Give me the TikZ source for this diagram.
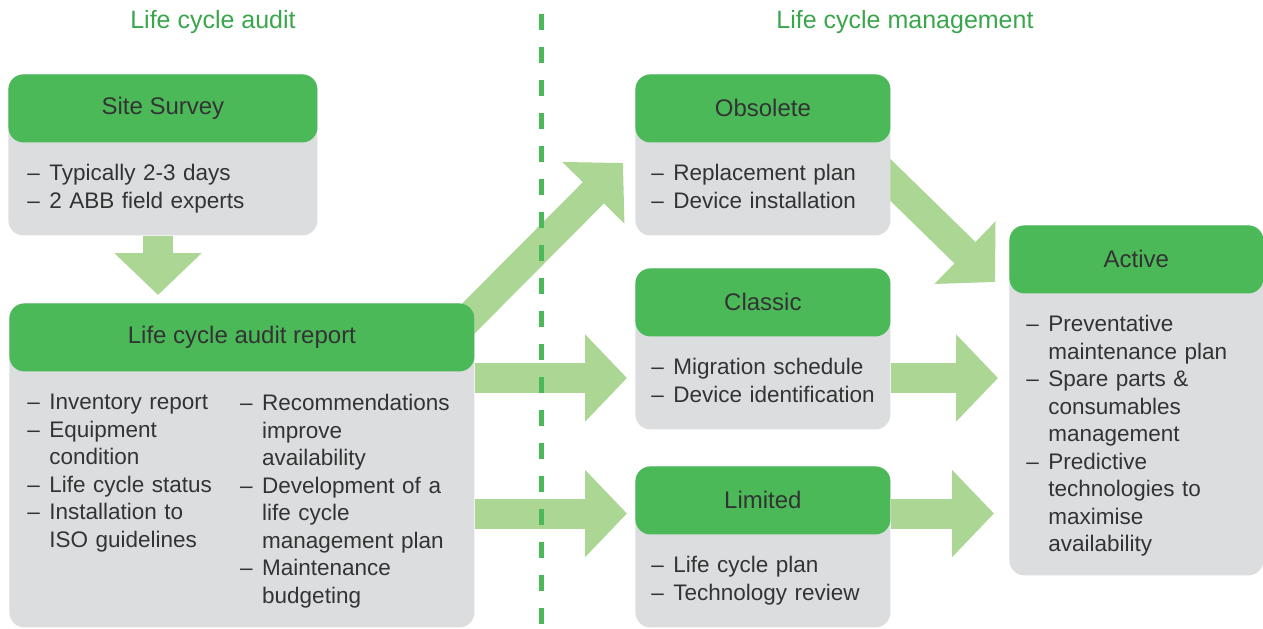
\documentclass[tikz,border=0pt]{standalone}
\usepackage{fontspec}
\setmainfont{Liberation Sans}
\usetikzlibrary{positioning,backgrounds,arrows.meta}
\definecolor{headgreen}{RGB}{75, 185, 88}
\definecolor{arrowgreen}{RGB}{172, 214, 147}
\definecolor{bodygrey}{RGB}{220, 221, 223}
\definecolor{titlegreen}{RGB}{58, 166, 75}
\definecolor{textgrey}{RGB}{51, 51, 51}
\newcommand{\dashitem}[1]{\noindent\hangindent=11pt\hangafter=1\makebox[11pt][l]{--}#1\par}

\begin{document}
\begin{tikzpicture}[
x=0.5pt, y=-0.5pt,
font=\fontsize{11.25}{13.75}\selectfont, text=textgrey,
titlenode/.style={text=titlegreen, font=\fontsize{12.5}{15}\selectfont},
bodynode/.style={rounded corners=7.5pt, fill=bodygrey, inner sep=0pt, anchor=north west},
headnode/.style={rounded corners=7.5pt, fill=headgreen, inner sep=0pt, minimum height=34pt, anchor=north, font=\fontsize{12}{14}\selectfont},
listnode/.style={anchor=north west, inner sep=0pt, align=left},
bigarrow/.style={-{Triangle[length=21pt, width=42.5pt]}, line width=15pt, draw=arrowgreen},
dashline/.style={draw=headgreen, line width=2.5pt, dash pattern=on 8pt off 8.5pt}
]
\useasboundingbox (0,0) rectangle (1263,628);

%Titles
\node[titlenode] (audit_title) at (213,22) {Life cycle audit};
\node[titlenode] (manage_title) at (905,22) {Life cycle management};

%Boxes audit
\node[bodynode, minimum width=154.5pt, minimum height=80.5pt] (survey_body) at (8,74) {};
\node[headnode, minimum width=154.5pt] (survey_head) at (survey_body.north) {Site Survey};
\node[listnode, text width=140pt] (survey_list) at (27,164) {\dashitem{Typically 2-3 days}\dashitem{2 ABB field experts}};

\node[bodynode, minimum width=232.5pt, minimum height=162pt] (report_body) at (9,303) {};
\node[headnode, minimum width=232.5pt] (report_head) at (report_body.north) {Life cycle audit report};
\node[listnode, text width=100pt] (report_list_1) at (27,394) {\dashitem{Inventory report}\dashitem{Equipment\newline condition}\dashitem{Life cycle status}\dashitem{Installation to\newline ISO guidelines}};
\node[listnode, text width=115pt] (report_list_2) [right=6pt of report_list_1.north east, anchor=north west] {\dashitem{Recommendations\newline improve\newline availability}\dashitem{Development of a\newline life cycle\newline management plan}\dashitem{Maintenance\newline budgeting}};

%Boxes management
\node[bodynode, minimum width=127.5pt, minimum height=80.5pt] (obsolete_body) at (635,74) {};
\node[headnode, minimum width=127.5pt] (obsolete_head) at (obsolete_body.north) {Obsolete};
\node[listnode, text width=120pt] (obsolete_list) at (651,164) {\dashitem{Replacement plan}\dashitem{Device installation}};

\node[bodynode, minimum width=127.5pt, minimum height=80.5pt] (classic_body) at (635,268) {};
\node[headnode, minimum width=127.5pt] (classic_head) at (classic_body.north) {Classic};
\node[listnode, text width=120pt] (classic_list) at (651,358) {\dashitem{Migration schedule}\dashitem{Device identification}};

\node[bodynode, minimum width=127.5pt, minimum height=80.5pt] (limited_body) at (635,466) {};
\node[headnode, minimum width=127.5pt] (limited_head) at (limited_body.north) {Limited};
\node[listnode, text width=120pt] (limited_list) at (651,556) {\dashitem{Life cycle plan}\dashitem{Technology review}};

\node[bodynode, minimum width=127pt, minimum height=175pt] (active_body) at (1009,225) {};
\node[headnode, minimum width=127pt] (active_head) at (active_body.north) {Active};
\node[listnode, text width=118pt] (active_list) at (1026,315) {\dashitem{Preventative\newline maintenance plan}\dashitem{Spare parts \&\newline consumables\newline management}\dashitem{Predictive\newline technologies to\newline maximise\newline availability}};

%Arrow tips
\coordinate (down_tip) at (158,295);
\coordinate (obsolete_start) at (450,337);
\coordinate (obsolete_tip) at (623,163);
\coordinate (active_start) at (870,160);
\coordinate (active_tip) at (995,282);
\coordinate (classic_tip) at (627,378);
\coordinate (limited_tip) at (627,513.5);
\coordinate (classic_active_tip) at (998,378);
\coordinate (limited_active_tip) at (994,513.5);

%Arrows
\begin{scope}[on background layer]
\draw [bigarrow] (down_tip |- survey_body.south) -- (down_tip);
\draw [bigarrow] (obsolete_start) -- (obsolete_tip);
\draw [bigarrow] (active_start) -- (active_tip);
\draw [bigarrow] (classic_tip -| report_body.east) -- (classic_tip);
\draw [bigarrow] (limited_tip -| report_body.east) -- (limited_tip);
\draw [bigarrow] (classic_active_tip -| classic_body.east) -- (classic_active_tip);
\draw [bigarrow] (limited_active_tip -| limited_body.east) -- (limited_active_tip);
\end{scope}

%Divider
\coordinate (divider_top) at (541,14);
\coordinate (divider_bottom) at (541,628);
\draw [dashline] (divider_top) -- (divider_bottom);

\end{tikzpicture}
\end{document}
